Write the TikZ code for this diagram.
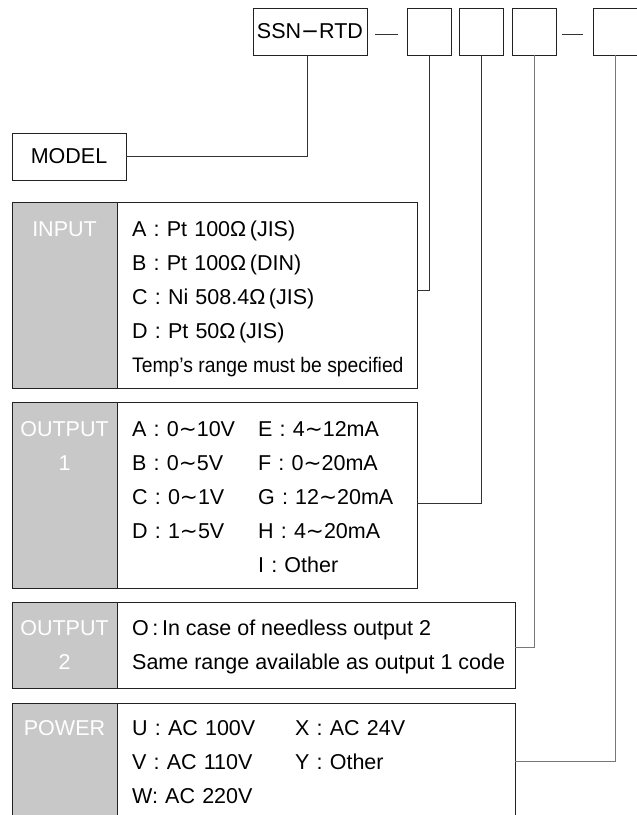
\documentclass[tikz,border=0pt]{standalone}
\usepackage{fontspec}
\setmainfont{Liberation Sans}
\newfontfamily\djfont{DejaVu Sans}
\newfontfamily\narrowfont[FakeStretch=0.92]{Liberation Sans}
\newcommand\wave{{\djfont\char"223C}}
\definecolor{labgray}{HTML}{C8C8C8}
\definecolor{edge}{HTML}{222222}
\definecolor{wire}{HTML}{333333}
\definecolor{wiregray}{HTML}{777777}
\begin{document}
\begin{tikzpicture}[x=1pt,y=-1pt,
  box/.style={draw=edge, line width=0.9pt, fill=white, inner sep=0pt, outer sep=0pt},
  codebox/.style={box, minimum width=44pt, minimum height=47pt},
  panel/.style={box, anchor=north west},
  grayband/.style={fill=labgray, draw=edge, line width=0.9pt, anchor=north west, inner sep=0pt, outer sep=0pt},
  txt/.style={anchor=base west, inner sep=0pt, font=\fontsize{21.5}{25}\selectfont},
  lab/.style={anchor=base, inner sep=0pt, text=white, font=\fontsize{21.5}{25}\selectfont},
  wireline/.style={draw=wire, line width=0.9pt},
  wiregrey/.style={draw=wiregray, line width=1pt}
]
\useasboundingbox (0,0) rectangle (637,815);
\fill[white] (0,0) rectangle (637,815);

% top code boxes
\node[box, minimum width=114pt, minimum height=47pt, font=\fontsize{21.5}{25}\selectfont] (ssn) at (310,31.5) {SSN{\djfont\char"2212}RTD};
\node[codebox] (b1) at (429,31.5) {};
\node[codebox] (b2) at (481.5,31.5) {};
\node[codebox] (b3) at (534,31.5) {};
\node[codebox] (b4) at (615,31.5) {};
\coordinate (d1a) at (375,34); \coordinate (d1b) at (398,34);
\coordinate (d2a) at (562,34); \coordinate (d2b) at (583,34);
\draw[wireline] (d1a) -- (d1b);
\draw[wireline] (d2a) -- (d2b);

% MODEL
\node[box, minimum width=114pt, minimum height=47pt, font=\fontsize{21.5}{25}\selectfont] (model) at (69,156.5) {MODEL};

% INPUT panel
\node[panel, minimum width=405pt, minimum height=186pt] (inp) at (12,202) {};
\node[grayband, minimum width=105pt, minimum height=186pt] (inpg) at (12,202) {};
\node[lab] (inpl) at (64.5,236) {INPUT};
\node[txt] (i1) at (132,236) {A\,\,:\,\,Pt\,\,100Ω\,(JIS)};
\node[txt] (i2) at (132,270) {B\,\,:\,\,Pt\,\,100Ω\,(DIN)};
\node[txt] (i3) at (132,304) {C\,\,:\,\,Ni\,\,508.4Ω\,(JIS)};
\node[txt] (i4) at (132,338) {D\,\,:\,\,Pt\,\,50Ω\,(JIS)};
\node[txt, font=\narrowfont\fontsize{21}{24}\selectfont] (i5) at (132,372) {Temp’s range must be specified};

% OUTPUT 1 panel
\node[panel, minimum width=405pt, minimum height=186pt] (out1) at (12,402) {};
\node[grayband, minimum width=105pt, minimum height=186pt] (out1g) at (12,402) {};
\node[lab] (o1l1) at (64.5,436) {OUTPUT};
\node[lab] (o1l2) at (64.5,470) {1};
\node[txt] (oa) at (132,436) {A\,\,:\,\,0\wave10V};
\node[txt] (ob) at (132,470) {B\,\,:\,\,0\wave5V};
\node[txt] (oc) at (132,504) {C\,\,:\,\,0\wave1V};
\node[txt] (od) at (132,538) {D\,\,:\,\,1\wave5V};
\node[txt] (oe) at (258,436) {E\,\,:\,\,4\wave12mA};
\node[txt] (of) at (258,470) {F\,\,:\,\,0\wave20mA};
\node[txt] (og) at (258,504) {G\,\,:\,\,12\wave20mA};
\node[txt] (oh) at (258,538) {H\,\,:\,\,4\wave20mA};
\node[txt] (oi) at (258,572) {I\,\,:\,\,Other};

% OUTPUT 2 panel
\node[panel, minimum width=503pt, minimum height=86pt] (out2) at (12,602) {};
\node[grayband, minimum width=105pt, minimum height=86pt] (out2g) at (12,602) {};
\node[lab] (o2l1) at (64.5,635) {OUTPUT};
\node[lab] (o2l2) at (64.5,669) {2};
\node[txt] (p1) at (132,635) {O\,:\,In case of needless output 2};
\node[txt] (p2) at (132,669) {Same range available as output 1 code};

% POWER panel
\node[panel, minimum width=503pt, minimum height=116pt] (pow) at (12,703) {};
\node[grayband, minimum width=105pt, minimum height=116pt] (powg) at (12,703) {};
\node[lab] (pwl) at (64.5,735) {POWER};
\node[txt] (pu) at (132,735) {U\,\,:\,\,AC\,\,100V};
\node[txt] (pv) at (132,769) {V\,\,:\,\,AC\,\,110V};
\node[txt] (pw) at (132,803) {W:\,\,AC\,\,220V};
\node[txt] (px) at (295,735) {X\,\,:\,\,AC\,\,24V};
\node[txt] (py) at (295,769) {Y\,\,:\,\,Other};

% connectors
\draw[wireline] ([xshift=-3pt]ssn.south) |- (model.east);
\draw[wireline] (b1.south) |- ([yshift=5pt]inp.east);
\draw[wireline] (b2.south) |- ([yshift=-8pt]out1.east);
\draw[wiregrey] (b3.south) |- ([yshift=-2pt]out2.east);
\draw[wiregrey] (b4.south) |- (pow.east);
\end{tikzpicture}
\end{document}
